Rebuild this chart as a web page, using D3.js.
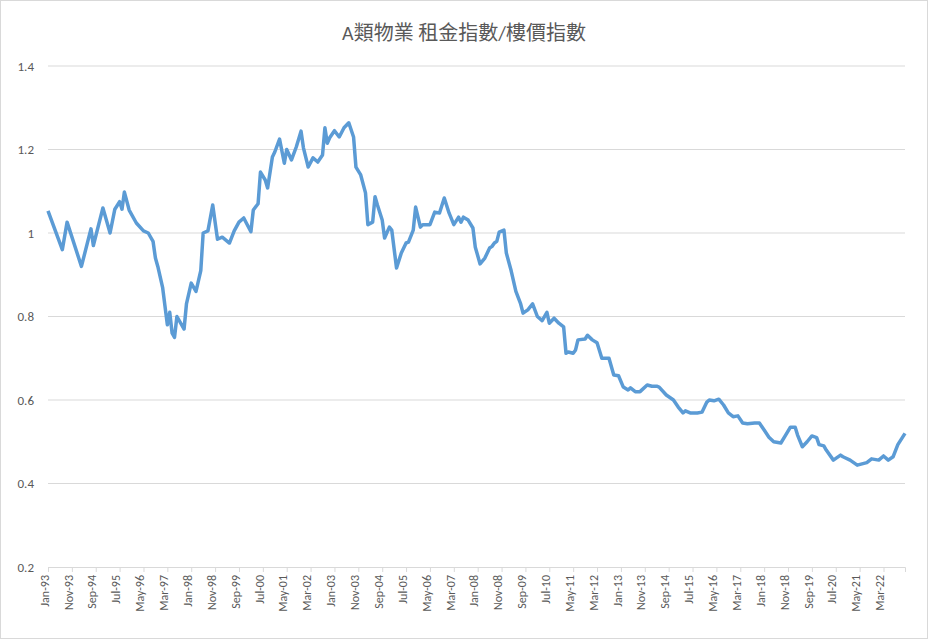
<!DOCTYPE html>
<html>
<head>
<meta charset="utf-8">
<script src="https://cdn.jsdelivr.net/npm/d3@7"></script>
<style>
  body { margin: 0; background: #fff; }
  text { font-family: Calibri, "Liberation Sans", "Noto Sans CJK TC", sans-serif; }
</style>
</head>
<body>
<div id="chart"></div>
<script>
// Observed points: month index from Jan-93, and ratio
var monthIdx = [0,6,8,14,18,19,23,26,28,30,31,32,34,37,40,42,44,45,46,48,50,51,52,53,54,57,58,60,62,64,65,67,69,71,73,76,78,80,
  82,85,86,88,89,91,92,94,95,97,99,100,102,104,106,107,109,111,113,115,116,117,118,120,122,124,126,128,129,131,133,134,136,137,138,
  140,141,143,144,146,148,150,151,153,154,156,157,160,162,164,166,168,170,172,173,174,176,178,179,181,183,185,186,187,188,189,191,
  192,194,196,198,199,201,203,205,207,209,210,212,214,216,217,218,220,221,222,225,226,228,230,232,235,237,239,241,243,244,246,248,
  251,253,255,256,259,262,264,266,267,269,272,274,276,277,279,281,283,285,287,289,291,293,296,298,300,302,304,307,309,311,313,314,
  316,318,320,322,323,325,326,329,332,333,336,339,341,343,345,348,350,352,354,356,358,359];
var ratio = [1.053,0.96,1.026,0.92,1.01,0.97,1.06,1.0,1.057,1.075,1.057,1.098,1.055,1.024,1.005,1.0,0.98,0.94,0.92,0.87,0.78,0.81,0.76,0.75,0.80,0.77,0.83,0.88,0.86,0.91,1.0,1.005,1.067,0.985,0.99,0.976,1.005,1.026,
  1.036,1.003,1.055,1.07,1.146,1.127,1.108,1.182,1.194,1.225,1.167,1.2,1.175,1.206,1.244,1.204,1.158,1.18,1.17,1.187,1.252,1.215,1.228,1.245,1.23,1.252,1.264,1.23,1.158,1.139,1.096,1.02,1.026,1.087,1.067,
  1.031,0.988,1.014,1.007,0.916,0.952,0.976,0.978,1.007,1.062,1.014,1.02,1.02,1.05,1.048,1.084,1.048,1.02,1.038,1.026,1.038,1.031,1.012,0.966,0.926,0.94,0.964,0.968,0.976,0.98,1.002,1.007,
  0.952,0.91,0.86,0.83,0.808,0.816,0.83,0.8,0.79,0.81,0.784,0.796,0.784,0.775,0.712,0.715,0.712,0.72,0.744,0.746,0.755,0.744,0.737,0.70,0.70,0.66,0.658,0.631,0.624,0.629,0.62,0.62,
  0.636,0.633,0.633,0.631,0.612,0.6,0.583,0.569,0.574,0.569,0.569,0.571,0.595,0.6,0.598,0.602,0.588,0.569,0.56,0.562,0.545,0.543,0.545,0.545,0.528,0.511,0.5,0.497,0.516,0.535,0.535,0.516,
  0.488,0.5,0.514,0.51,0.493,0.49,0.48,0.456,0.468,0.464,0.456,0.444,0.447,0.45,0.459,0.456,0.466,0.456,0.464,0.493,0.511,0.52];
var monthNames = ["Jan","Feb","Mar","Apr","May","Jun","Jul","Aug","Sep","Oct","Nov","Dec"];
var yTicks = [0.2, 0.4, 0.6, 0.8, 1, 1.2, 1.4];
var title = "A類物業 租金指數/樓價指數";

var svgWidth = 928, svgHeight = 639;
var svg = d3.select("#chart").append("svg")
    .attr("width", svgWidth)
    .attr("height", svgHeight);

// chart border
svg.append("rect")
    .attr("x", 0.5).attr("y", 0.5)
    .attr("width", svgWidth - 1).attr("height", svgHeight - 1)
    .attr("fill", "#fff").attr("stroke", "#d9d9d9");

var months = d3.range(360).map(function (i) {
    return monthNames[i % 12] + "-" + String((93 + Math.floor(i / 12)) % 100).padStart(2, "0");
});

var x = d3.scalePoint().domain(months).range([48, 905]);
var y = d3.scaleLinear().domain([0.2, 1.4]).range([567, 66]);

// gridlines
svg.append("g").selectAll("line")
    .data(yTicks.slice(1))
    .enter().append("line")
    .attr("x1", 48).attr("x2", 905)
    .attr("y1", function (d) { return y(d); })
    .attr("y2", function (d) { return y(d); })
    .attr("stroke", "#d9d9d9");

// y axis labels
var leftAxis = d3.axisLeft(y).tickValues(yTicks).tickSize(0).tickPadding(14)
    .tickFormat(function (d) { return String(+d.toFixed(1)); });
svg.append("g")
    .attr("transform", "translate(48,0)")
    .call(leftAxis)
    .call(function (g) { g.select(".domain").remove(); })
    .selectAll("text").attr("fill", "#595959").style("font-size", "13px");

// x axis
var bottomAxis = d3.axisBottom(x)
    .tickValues(months.filter(function (d, i) { return i % 10 === 0; }))
    .tickSize(5);
var gx = svg.append("g")
    .attr("transform", "translate(0,567)")
    .call(bottomAxis);
gx.select(".domain").attr("stroke", "#d9d9d9");
gx.selectAll(".tick line").attr("stroke", "#d9d9d9");
gx.selectAll("text")
    .attr("fill", "#595959")
    .style("font-size", "12px")
    .attr("transform", "rotate(-90)")
    .attr("text-anchor", "end")
    .attr("x", -8).attr("y", -4).attr("dy", "0.35em");

// line
var pts = monthIdx.map(function (m, i) { return { m: months[m], v: ratio[i] }; });
svg.append("path")
    .datum(pts)
    .attr("fill", "none")
    .attr("stroke", "#5b9bd5")
    .attr("stroke-width", 3.5)
    .attr("stroke-linejoin", "round")
    .attr("d", d3.line().x(function (d) { return x(d.m); }).y(function (d) { return y(d.v); }));

svg.append("text")
    .attr("x", 464).attr("y", 40)
    .attr("text-anchor", "middle")
    .attr("fill", "#595959")
    .style("font-size", "20px")
    .text(title);
</script>
</body>
</html>
